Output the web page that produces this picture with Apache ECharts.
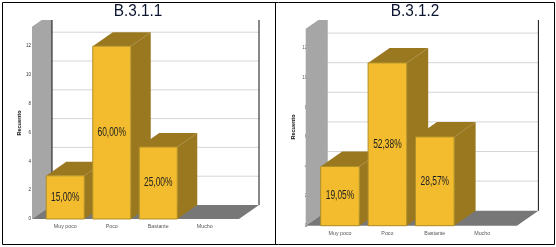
<!DOCTYPE html>
<html><head><meta charset="utf-8">
<style>html,body{margin:0;padding:0;background:#fff}#c{width:556px;height:247px}</style>
<script src="https://cdn.jsdelivr.net/npm/echarts@6/dist/echarts.min.js"></script>
</head><body><div id="c"></div>
<script>
const categories = ['Muy poco', 'Poco', 'Bastante', 'Mucho'];
const tickValues = [0, 2, 4, 6, 8, 10, 12];
const titleLeft = 'B.3.1.1';
const titleRight = 'B.3.1.2';
const valuesLeft = [3, 12, 5, 0];
const valuesRight = [4, 11, 6, 0];
const percentLeft = ['15,00%', '60,00%', '25,00%', ''];
const percentRight = ['19,05%', '52,38%', '28,57%', ''];

const C = {front:'#f2bc2e', edge:'#b08f27', side:'#9a7820', wall:'#a6a6a6', floor:'#777777', grid:'#d6d6d6', black:'#111111'};
const sans = '"Liberation Sans",Arial,sans-serif';

const L = {left:42, bandW:186, base:219, unit:14.4, dx:20, dy:14, wallLeft:10, wallRight:11, barW:38, frontTop:13.35, clipY:20, cx:138, title:titleLeft, nameX:19, nameY:123, tickColor:'#333'};
const R = {left:316.3, bandW:189.6, base:225.7, unit:14.8, dx:21.5, dy:15, wallLeft:10.6, wallRight:11, barW:38.6, frontTop:13.3, clipY:20, cx:415, title:titleRight, nameX:293, nameY:127, tickColor:'#555'};
const YMAX = 14;

function sceneRender(lay) {
  return function (params, api) {
    const o = api.coord([0, 0]);
    const band = api.size([1, 0])[0];
    const x0 = o[0] - band / 2 - lay.wallLeft;
    const x1 = o[0] + band * 3.5 + lay.wallRight;
    const y0 = o[1];
    const dx = lay.dx, dy = lay.dy;
    const fy = api.coord([0, lay.frontTop])[1];
    const t = (fy - lay.clipY) / dy;
    const kids = [];
    kids.push({type:'polygon', shape:{points:[[x0,y0],[x0,fy],[x0+dx*t,lay.clipY],[x0+dx,lay.clipY],[x0+dx,y0-dy]]}, style:{fill:C.wall}});
    kids.push({type:'polygon', shape:{points:[[x0,y0],[x0+dx,y0-dy],[x1+dx,y0-dy],[x1,y0]]}, style:{fill:C.floor}});
    tickValues.slice(1).forEach(v => {
      const y = api.coord([0, v])[1] - dy;
      kids.push({type:'line', shape:{x1:x0+dx, y1:y, x2:x1+dx, y2:y}, style:{stroke:C.grid, lineWidth:1}});
    });
    kids.push({type:'line', shape:{x1:x0+dx, y1:lay.clipY, x2:x0+dx, y2:y0-dy}, style:{stroke:lay === L ? C.black : C.wall, lineWidth:1}});
    kids.push({type:'line', shape:{x1:x1+dx, y1:lay.clipY, x2:x1+dx, y2:y0-dy}, style:{stroke:C.black, lineWidth:1}});
    return {type:'group', children:kids};
  };
}

function barRender(lay, labels) {
  return function (params, api) {
    const idx = api.value(0), val = api.value(1);
    if (!val) return null;
    const top = api.coord([idx, val]);
    const bot = api.coord([idx, 0]);
    const w = lay.barW, dx = lay.dx, dy = lay.dy;
    const xl = top[0] - w / 2, xr = top[0] + w / 2;
    return {type:'group', children:[
      {type:'polygon', shape:{points:[[xr,top[1]],[xr+dx,top[1]-dy],[xr+dx,bot[1]-dy],[xr,bot[1]]]}, style:{fill:C.side}},
      {type:'polygon', shape:{points:[[xl,top[1]],[xl+dx,top[1]-dy],[xr+dx,top[1]-dy],[xr,top[1]]]}, style:{fill:C.side}},
      {type:'rect', shape:{x:xl, y:top[1], width:w, height:bot[1]-top[1]}, style:{fill:C.front, stroke:C.edge, lineWidth:1}},
      {type:'text', x:top[0], y:(top[1]+bot[1])/2, scaleX:0.7, style:{x:0, y:0, text:labels[params.dataIndex], fill:'#222', font:'12px '+sans, align:'center', verticalAlign:'middle'}}
    ]};
  };
}

function gridOf(lay) {
  const top = lay.base - YMAX * lay.unit;
  return {left:lay.left, width:lay.bandW, top:top, height:lay.base - top};
}
function xAxisOf(i) {
  return {type:'category', gridIndex:i, data:categories, axisLine:{show:false}, axisTick:{show:false},
    axisLabel:{fontSize:5.3, fontFamily:sans, color:'#555', margin:5, interval:0}};
}
function yAxisOf(i, lay) {
  return {type:'value', gridIndex:i, min:0, max:YMAX, interval:2, axisLine:{show:false}, axisTick:{show:false}, splitLine:{show:false},
    axisLabel:{fontSize:4.5, fontFamily:sans, color:lay.tickColor, margin:lay === L ? 11 : 9, customValues:tickValues}};
}
function seriesOf(i, lay, values, labels) {
  return [
    {type:'custom', xAxisIndex:i, yAxisIndex:i, z:1, silent:true, clip:false, renderItem:sceneRender(lay), data:[[0,0]], animation:false},
    {type:'custom', xAxisIndex:i, yAxisIndex:i, z:2, silent:true, clip:false, renderItem:barRender(lay, labels),
      encode:{x:0, y:1}, data:values.map((v,k)=>[k,v]), animation:false}
  ];
}
function titleOf(lay) {
  return {type:'text', x:lay.cx, y:11, scaleX:0.93, z:10, style:{text:lay.title, x:0, y:0, fill:'#0c1530', font:'16.5px '+sans, align:'center', verticalAlign:'middle'}};
}
function nameOf(lay) {
  return {type:'text', x:lay.nameX, y:lay.nameY, rotation:Math.PI/2, z:10, style:{text:'Recuento', x:0, y:0, fill:'#111', font:'bold 5.5px '+sans, align:'center', verticalAlign:'middle'}};
}
function rule(x1,y1,x2,y2){
  return {type:'line', z:20, shape:{x1,y1,x2,y2}, style:{stroke:'#000', lineWidth:1}};
}

const chart = echarts.init(document.getElementById('c'), null, {renderer:'canvas'});
chart.setOption({
  animation:false,
  backgroundColor:'#fff',
  grid:[gridOf(L), gridOf(R)],
  xAxis:[xAxisOf(0), xAxisOf(1)],
  yAxis:[yAxisOf(0,L), yAxisOf(1,R)],
  series:[...seriesOf(0,L,valuesLeft,percentLeft), ...seriesOf(1,R,valuesRight,percentRight)],
  graphic:[
    titleOf(L), titleOf(R), nameOf(L), nameOf(R),
    rule(2.5,2.5,554.5,2.5), rule(2.5,244.5,554.5,244.5), rule(2.5,2.5,2.5,244.5), rule(275.5,2.5,275.5,244.5), rule(554.5,2.5,554.5,244.5)
  ]
});
</script></body></html>
